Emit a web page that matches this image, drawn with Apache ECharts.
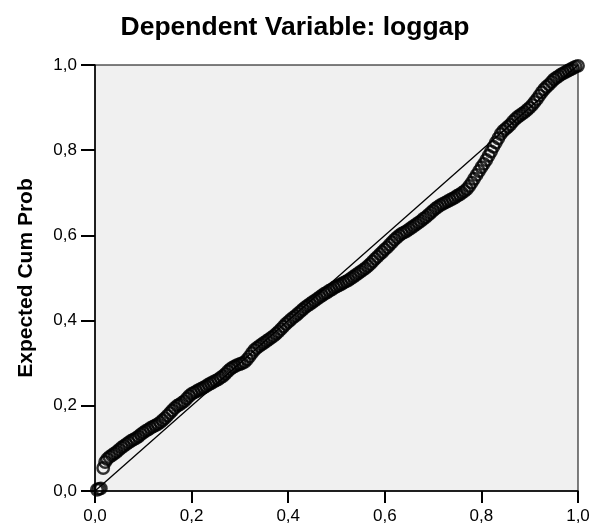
<!DOCTYPE html>
<html>
<head>
<meta charset="utf-8">
<script src="https://cdn.jsdelivr.net/npm/echarts@6/dist/echarts.min.js"></script>
<style>
  html, body { margin: 0; padding: 0; background: #fff; }
  #chart { width: 593px; height: 530px; }
</style>
</head>
<body>
<div id="chart"></div>
<script>
// P-P plot: observed vs expected cumulative probability
const titleText = 'Dependent Variable: loggap'
const yAxisTitle = 'Expected Cum Prob'
const axisTicks = [0, 0.2, 0.4, 0.6, 0.8, 1.0]

const observed = [
  0.004, 0.008, 0.012, 0.017, 0.021, 0.025,
  0.030, 0.035, 0.040, 0.045, 0.050, 0.055, 0.060, 0.065, 0.070, 0.075,
  0.080, 0.085, 0.090, 0.095, 0.100, 0.105, 0.110, 0.115, 0.120, 0.125,
  0.130, 0.135, 0.140, 0.145, 0.150, 0.155, 0.160, 0.165, 0.170, 0.175,
  0.180, 0.185, 0.190, 0.195, 0.200, 0.205, 0.210, 0.215, 0.220, 0.225,
  0.230, 0.235, 0.240, 0.245, 0.250, 0.255, 0.260, 0.265, 0.270, 0.275,
  0.280, 0.285, 0.290, 0.295, 0.300, 0.305, 0.310, 0.315, 0.320, 0.325,
  0.330, 0.335, 0.340, 0.345, 0.350, 0.355, 0.360, 0.365, 0.370, 0.375,
  0.380, 0.385, 0.390, 0.395, 0.400, 0.405, 0.410, 0.415, 0.420, 0.425,
  0.430, 0.435, 0.440, 0.445, 0.450, 0.455, 0.460, 0.465, 0.470, 0.475,
  0.480, 0.485, 0.490, 0.495, 0.500, 0.505, 0.510, 0.515, 0.520, 0.525,
  0.530, 0.535, 0.540, 0.545, 0.550, 0.555, 0.560, 0.565, 0.570, 0.575,
  0.580, 0.585, 0.590, 0.595, 0.600, 0.605, 0.610, 0.615, 0.620, 0.625,
  0.630, 0.635, 0.640, 0.645, 0.650, 0.655, 0.660, 0.665, 0.670, 0.675,
  0.680, 0.685, 0.690, 0.695, 0.700, 0.705, 0.710, 0.715, 0.720, 0.725,
  0.730, 0.735, 0.740, 0.745, 0.750, 0.755, 0.760, 0.765, 0.770, 0.775,
  0.780, 0.785, 0.790, 0.795, 0.800, 0.805, 0.810, 0.815, 0.820, 0.825,
  0.830, 0.835, 0.840, 0.845, 0.850, 0.855, 0.860, 0.865, 0.870, 0.875,
  0.880, 0.885, 0.890, 0.895, 0.900, 0.905, 0.910, 0.915, 0.920, 0.925,
  0.930, 0.935, 0.940, 0.945, 0.950, 0.955, 0.960, 0.965, 0.970, 0.975,
  0.980, 0.985, 0.990, 0.995, 1.000
]
const expected = [
  0.003, 0.005, 0.006, 0.054, 0.068, 0.075,
  0.080, 0.084, 0.088, 0.092, 0.097, 0.102, 0.106, 0.110, 0.114, 0.118,
  0.121, 0.124, 0.128, 0.133, 0.137, 0.141, 0.144, 0.148, 0.151, 0.154,
  0.157, 0.161, 0.166, 0.171, 0.177, 0.183, 0.189, 0.195, 0.200, 0.203,
  0.207, 0.211, 0.217, 0.223, 0.228, 0.231, 0.234, 0.237, 0.240, 0.243,
  0.246, 0.250, 0.253, 0.256, 0.259, 0.262, 0.266, 0.270, 0.275, 0.281,
  0.286, 0.290, 0.293, 0.296, 0.298, 0.300, 0.303, 0.309, 0.316, 0.324,
  0.331, 0.336, 0.340, 0.344, 0.348, 0.352, 0.356, 0.360, 0.364, 0.369,
  0.374, 0.380, 0.386, 0.392, 0.397, 0.402, 0.407, 0.411, 0.416, 0.421,
  0.426, 0.431, 0.435, 0.439, 0.443, 0.447, 0.451, 0.455, 0.459, 0.463,
  0.466, 0.470, 0.473, 0.477, 0.480, 0.483, 0.486, 0.489, 0.492, 0.495,
  0.499, 0.503, 0.507, 0.511, 0.515, 0.519, 0.523, 0.528, 0.533, 0.539,
  0.545, 0.550, 0.556, 0.561, 0.567, 0.572, 0.578, 0.584, 0.590, 0.595,
  0.600, 0.604, 0.607, 0.610, 0.614, 0.618, 0.622, 0.626, 0.630, 0.634,
  0.639, 0.643, 0.648, 0.653, 0.658, 0.663, 0.667, 0.671, 0.674, 0.677,
  0.680, 0.683, 0.686, 0.689, 0.693, 0.696, 0.700, 0.704, 0.709, 0.716,
  0.724, 0.733, 0.742, 0.751, 0.760, 0.768, 0.777, 0.787, 0.797, 0.808,
  0.818, 0.828, 0.838, 0.845, 0.850, 0.855, 0.860, 0.867, 0.873, 0.878,
  0.882, 0.886, 0.890, 0.895, 0.900, 0.906, 0.913, 0.920, 0.928, 0.936,
  0.943, 0.949, 0.954, 0.960, 0.966, 0.970, 0.974, 0.978, 0.981, 0.984,
  0.987, 0.990, 0.993, 0.996, 0.998
]
const diagonal = [[0, 0], [1, 1]]

const font = 'Arial, "Liberation Sans", sans-serif'
const fmt = v => v.toFixed(1).replace('.', ',')

const points = observed.map((x, i) => [x, expected[i]])

const chart = echarts.init(document.getElementById('chart'), null, { renderer: 'canvas' })

const axisCommon = {
  type: 'value',
  min: axisTicks[0],
  max: axisTicks[axisTicks.length - 1],
  interval: 0.2,
  splitLine: { show: false },
  axisLine: { show: true, onZero: false, lineStyle: { color: '#000', width: 1.5 } },
  axisTick: { show: true, lineStyle: { color: '#000', width: 2 } },
  axisLabel: { color: '#000', fontFamily: font, fontSize: 17, formatter: fmt }
}

chart.setOption({
  animation: false,
  title: {
    text: titleText,
    left: 290,
    top: 9,
    textAlign: 'center',
    textStyle: { fontFamily: font, fontWeight: 'bold', fontSize: 26.5, color: '#000' }
  },
  grid: {
    left: 95, right: 15, top: 65, bottom: 39,
    show: true,
    backgroundColor: '#f0f0f0',
    borderColor: '#000',
    borderWidth: 1
  },
  xAxis: Object.assign({}, axisCommon, {
    axisTick: { show: true, length: 12, lineStyle: { color: '#000', width: 2 } },
    axisLabel: Object.assign({}, axisCommon.axisLabel, { margin: 17 })
  }),
  yAxis: Object.assign({}, axisCommon, {
    name: yAxisTitle,
    nameLocation: 'middle',
    nameGap: 58,
    nameTextStyle: { fontFamily: font, fontWeight: 'bold', fontSize: 21, color: '#000' },
    axisTick: { show: true, length: 14, lineStyle: { color: '#000', width: 2 } },
    axisLabel: Object.assign({}, axisCommon.axisLabel, { margin: 18 })
  }),
  series: [
    {
      type: 'line',
      data: diagonal,
      symbol: 'none',
      lineStyle: { color: '#000', width: 1.3 },
      z: 2
    },
    {
      type: 'scatter',
      data: points,
      symbol: 'circle',
      symbolSize: 11.5,
      itemStyle: { color: 'rgba(0,0,0,0)', borderColor: '#000', borderWidth: 2.4 },
      z: 3
    }
  ]
})
</script>
</body>
</html>
